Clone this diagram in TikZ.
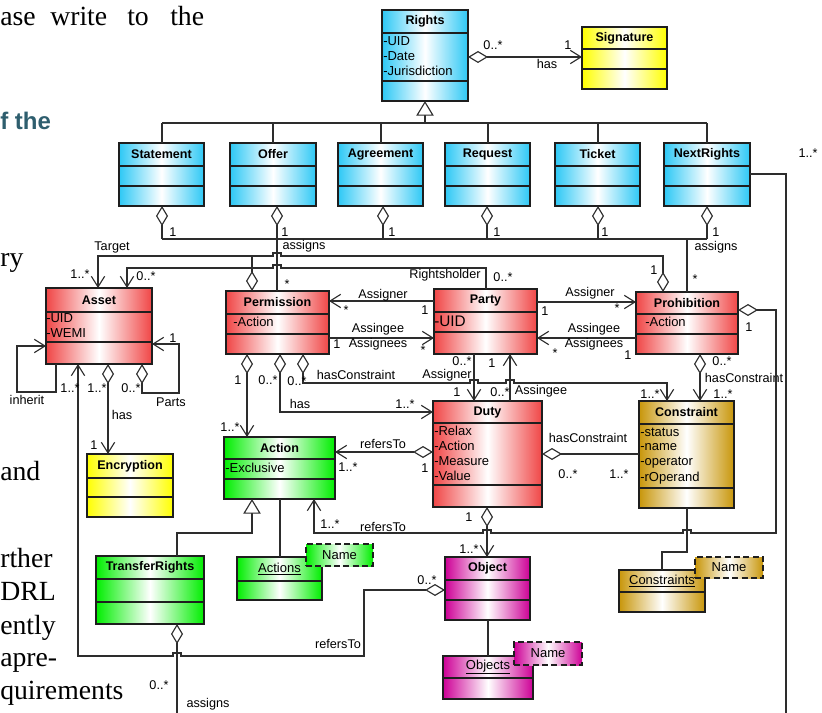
\documentclass[tikz,border=0pt]{standalone}
\usepackage{fontspec}
\setmainfont{Liberation Sans}
\newfontfamily\bodyserif{Liberation Serif}
\usetikzlibrary{arrows.meta,calc,fit}

\definecolor{cblue}{RGB}{45,200,245}
\definecolor{cyellow}{RGB}{255,255,0}
\definecolor{cred}{RGB}{240,70,70}
\definecolor{cgreen}{RGB}{0,238,0}
\definecolor{cgold}{RGB}{200,150,10}
\definecolor{cmag}{RGB}{205,0,150}
\definecolor{cborder}{RGB}{30,30,30}
\definecolor{cline}{RGB}{45,45,45}
\definecolor{cteal}{RGB}{46,94,110}

\tikzset{
  clsbox/.style={draw=cborder, line width=1pt, inner sep=0pt, outer sep=0pt},
  sepline/.style={draw=cborder, line width=1pt},
  ttl/.style={font=\fontsize{9.4}{11}\selectfont\bfseries, inner sep=0pt},
  att/.style={font=\fontsize{9.75}{11}\selectfont, inner sep=0pt, anchor=west},
  lbl/.style={font=\fontsize{9.5}{11}\selectfont, inner sep=0pt},
  body/.style={font=\bodyserif\fontsize{20.8}{25}\selectfont, inner sep=0pt, anchor=base west},
  conn/.style={draw=cline, line width=0.85pt},
  nav/.style={conn, -{Straight Barb[length=8pt,width=10pt]}},
  agg/.style={conn, {Diamond[fill=white,length=15pt,width=9pt]}-},
  aggnav/.style={conn, {Diamond[fill=white,length=15pt,width=9pt]}-{Straight Barb[length=8pt,width=10pt]}},
  gen/.style={conn, -{Triangle[fill=white,length=11pt,width=13pt]}},
  tagbox/.style={draw=cborder, line width=1pt, dash pattern=on 4.5pt off 2.5pt, inner sep=0pt, outer sep=0pt},
}

% class box: name, colour, x1, y1, x2, y2, first and second compartment line, title
\newcommand\umlcls[9]{%
  \node[clsbox, left color=#2, right color=#2, middle color=white, fit={(#3,#4) (#5,#6)}] (#1) {};
  \draw[sepline] (#1.west |- 0,#7) -- (#1.east |- 0,#7);
  \draw[sepline] (#1.west |- 0,#8) -- (#1.east |- 0,#8);
  \node[ttl] (#1-title) at ($(#1.north)!0.5!(#1.north |- 0,#7)$) {#9};
}
% instance box with underlined name
\newcommand\umlinst[8]{%
  \node[clsbox, left color=#2, right color=#2, middle color=white, fit={(#3,#4) (#5,#6)}] (#1) {};
  \draw[sepline] (#1.west |- 0,#7) -- (#1.east |- 0,#7);
  \node[lbl, font=\fontsize{9.75}{11}\selectfont] (#1-title) at ($(#1.north)!0.5!(#1.north |- 0,#7)$) {\underline{#8}};
}
% dashed template tag
\newcommand\umltag[6]{%
  \node[tagbox, left color=#2, right color=#2, middle color=white, fit={(#3,#4) (#5,#6)}] (#1) {};
  \node[lbl, font=\fontsize{9.75}{11}\selectfont] (#1-text) at (#1.center) {Name};
}
\newcounter{lblno}
\newcommand\lbl[2]{\stepcounter{lblno}\node[lbl] (lbl\arabic{lblno}) at (#1) {#2};}

\begin{document}
\begin{tikzpicture}[x=0.75pt,y=-0.75pt]
\useasboundingbox (0,0) rectangle (822,713);

% surrounding page text
\node[body] (bt1) at (0,26) {ase};
\node[body] (bt2) at (50,26) {write};
\node[body] (bt3) at (127,26) {to};
\node[body] (bt4) at (170,26) {the};
\node[inner sep=0pt, anchor=base west, font=\fontsize{18}{20}\selectfont\bfseries, text=cteal] (bt5) at (0,130) {f the};
\node[body] (bt6) at (0,267) {ry};
\node[body] (bt7) at (0,480) {and};
\node[body] (bt8) at (0,567) {rther};
\node[body] (bt9) at (0,600) {DRL};
\node[body] (bt10) at (0,634) {ently};
\node[body] (bt11) at (0,666) {apre-};
\node[body] (bt12) at (0,699) {quirements};

% classes
\umlcls{rights}{cblue}{382}{10}{468}{101}{33}{81}{Rights}
\node[att] (rights-a1) at (383,41) {-UID};
\node[att] (rights-a2) at (383,56) {-Date};
\node[att] (rights-a3) at (383,71) {-Jurisdiction};
\umlcls{signature}{cyellow}{582}{27}{667}{89}{49}{69}{Signature}
\umlcls{statement}{cblue}{119}{143}{204}{206}{166}{186}{Statement}
\umlcls{offer}{cblue}{230}{143}{316}{206}{166}{186}{Offer}
\umlcls{agreement}{cblue}{338}{143}{423}{206}{166}{186}{Agreement}
\umlcls{request}{cblue}{445}{143}{530}{206}{166}{186}{Request}
\umlcls{ticket}{cblue}{555}{143}{640}{206}{166}{186}{Ticket}
\umlcls{nextrights}{cblue}{664}{143}{750}{206}{166}{186}{NextRights}

\umlcls{asset}{cred}{46}{288}{152}{364}{312}{342}{Asset}
\node[att] (asset-a1) at (46,318) {-UID};
\node[att] (asset-a2) at (46,333) {-WEMI};
\umlcls{permission}{cred}{226}{291}{329}{354}{314}{334}{Permission}
\node[att] (permission-a1) at (233,322) {-Action};
\umlcls{party}{cred}{434}{289}{537}{354}{312}{332}{Party}
\node[att, font=\fontsize{11.5}{13}\selectfont] (party-a1) at (434,321) {-UID};
\umlcls{prohibition}{cred}{636}{292}{738}{354}{314}{334}{Prohibition}
\node[att] (prohibition-a1) at (645,322) {-Action};

\umlcls{encryption}{cyellow}{87}{454}{173}{517}{478}{497}{Encryption}
\umlcls{action}{cgreen}{224}{437}{335}{499}{459}{479}{Action}
\node[att] (action-a1) at (225,468) {-Exclusive};
\umlcls{duty}{cred}{433}{401}{542}{507}{423}{485}{Duty}
\node[att] (duty-a1) at (434,431) {-Relax};
\node[att] (duty-a2) at (434,446) {-Action};
\node[att] (duty-a3) at (434,461) {-Measure};
\node[att] (duty-a4) at (434,476) {-Value};
\umlcls{constraint}{cgold}{639}{401}{734}{508}{424}{488}{Constraint}
\node[att] (constraint-a1) at (640,432) {-status};
\node[att] (constraint-a2) at (640,447) {-name};
\node[att] (constraint-a3) at (640,463) {-operator};
\node[att] (constraint-a4) at (640,478) {-rOperand};

\umlcls{transferrights}{cgreen}{96}{556}{204}{624}{579}{602}{TransferRights}
\umlcls{object}{cmag}{445}{557}{530}{620}{580}{600}{Object}
\umlinst{actions}{cgreen}{237}{557}{322}{600}{581}{Actions}
\umltag{actions-tag}{cgreen}{306}{544}{373}{566}
\umlinst{objects}{cmag}{443}{656}{533}{699}{678}{Objects}
\umltag{objects-tag}{cmag}{514}{642}{582}{665}
\umlinst{constraints}{cgold}{619}{570}{705}{612}{592}{Constraints}
\umltag{constraints-tag}{cgold}{695}{557}{763}{578}

\coordinate (nr-end) at (786,713);
\coordinate (tr-end) at (177,713);

% Rights has Signature
\draw[aggnav] (rights.east |- 0,57) -- (signature.west |- 0,57);
\lbl{493,45}{0..*}\lbl{568,45}{1}\lbl{547,64}{has}

% specialisations of Rights
\draw[gen] (425,123) -- (rights.south);
\draw[conn] (162,123) -- (707,123);
\foreach \n/\x in {statement/162,offer/273,agreement/381,request/488,ticket/598,nextrights/707}
  \draw[conn] (\n.north -| \x,0) -- (\x,123);

% assigns
\foreach \n/\x in {statement/162,agreement/383,request/487,ticket/598,nextrights/707}
  \draw[agg] (\n.south -| \x,0) -- (\x,239);
\draw[agg] (offer.south -| 277,0) -- (permission.north -| 277,0);
\draw[conn] (162,239) -- (707,239);
\draw[conn, line width=1.7pt] (687,239) -- (prohibition.north);
\lbl{173,232}{1}\lbl{285,232}{1}\lbl{392,232}{1}\lbl{497,232}{1}\lbl{605,232}{1}\lbl{716,232}{1}
\lbl{304,246}{assigns}\lbl{716,247}{assigns}
\lbl{287,284}{*}\lbl{695,279}{*}

% Target
\draw[aggnav] (prohibition.north -| 663,0) -- (663,256) -- (281,256) -- (281,253) -- (273,253) -- (273,256) -- (98,256) -- (asset.north -| 98,0);
\draw[agg] (permission.north -| 252,0) -- (252,256);
\lbl{112,247}{Target}\lbl{80,274}{1..*}\lbl{654,270}{1}

% Rightsholder
\draw[nav] (party.north -| 486,0) -- (486,268) -- (281,268) -- (281,265) -- (273,265) -- (273,268) -- (127,268) -- (asset.north -| 127,0);
\lbl{146,276}{0..*}\lbl{445,275}{Rightsholder}\lbl{503,277}{0..*}

% Asset associations
\draw[nav] (asset.south -| 56,0) -- (56,392) -- (17,392) -- (17,346) -- (asset.west |- 0,346);
\lbl{27,400}{inherit}
\draw[aggnav] (asset.south -| 142,0) -- (142,393) -- (179,393) -- (179,344) -- (asset.east |- 0,344);
\lbl{131,388}{0..*}\lbl{171,402}{Parts}\lbl{173,338}{1}
\draw[aggnav] (asset.south -| 108,0) -- (encryption.north -| 108,0);
\lbl{97,388}{1..*}\lbl{122,415}{has}\lbl{94,445}{1}

% Party with Permission and Prohibition
\draw[nav] (party.west |- 0,301) -- (permission.east |- 0,301);
\lbl{383,295}{Assigner}\lbl{346,310}{*}\lbl{425,310}{1}
\draw[nav] (permission.east |- 0,338) -- (party.west |- 0,338);
\lbl{378,329}{Assingee}\lbl{378,344}{Assignees}\lbl{337,344}{1}\lbl{423,350}{*}
\draw[nav] (party.east |- 0,302) -- (prohibition.west |- 0,302);
\lbl{590,293}{Assigner}\lbl{617,308}{*}\lbl{545,311}{1}
\draw[nav] (prohibition.west |- 0,338) -- (party.east |- 0,338);
\lbl{594,329}{Assingee}\lbl{594,344}{Assignees}\lbl{555,353}{*}\lbl{628,355}{1}

% Party with Duty
\draw[nav] (party.south -| 474,0) -- (duty.north -| 474,0);
\lbl{462,361}{0..*}\lbl{447,375}{Assigner}\lbl{457,392}{1}
\draw[nav] (duty.north -| 510,0) -- (party.south -| 510,0);
\lbl{492,363}{1}\lbl{500,392}{0..*}\lbl{541,391}{Assingee}

% Permission associations
\draw[aggnav] (permission.south -| 303,0) -- (303,383) -- (470,383) -- (470,380) -- (478,380) -- (478,383) -- (506,383) -- (506,380) -- (514,380) -- (514,383) -- (667,383) -- (constraint.north -| 667,0);
\lbl{297,381}{0..*}\lbl{356,375}{hasConstraint}\lbl{650,394}{1..*}
\draw[aggnav] (permission.south -| 280,0) -- (280,412) -- (duty.west |- 0,412);
\lbl{268,380}{0..*}\lbl{300,404}{has}\lbl{405,404}{1..*}
\draw[aggnav] (permission.south -| 247,0) -- (action.north -| 247,0);
\lbl{238,380}{1}\lbl{230,427}{1..*}

% Duty associations
\draw[aggnav] (duty.west |- 0,452) -- (action.east |- 0,452);
\lbl{383,444}{refersTo}\lbl{348,467}{1..*}\lbl{425,468}{1}
\draw[agg] (duty.east |- 0,454) -- (constraint.west |- 0,454);
\lbl{588,438}{hasConstraint}\lbl{568,474}{0..*}\lbl{619,474}{1..*}
\draw[aggnav] (duty.south -| 487,0) -- (object.north -| 487,0);
\lbl{469,517}{1}\lbl{469,549}{1..*}

% Prohibition associations
\draw[aggnav] (prohibition.south -| 700,0) -- (constraint.north -| 700,0);
\lbl{722,361}{0..*}\lbl{744,378}{hasConstraint}\lbl{723,394}{1..*}
\draw[aggnav] (prohibition.east |- 0,310) -- (776,310) -- (776,533) -- (691,533) -- (691,530) -- (683,530) -- (683,533) -- (491,533) -- (491,530) -- (483,530) -- (483,533) -- (314,533) -- (action.south -| 314,0);
\lbl{749,327}{1}\lbl{330,524}{1..*}\lbl{383,527}{refersTo}

% Object refers to Asset
\draw[aggnav] (object.west |- 0,590) -- (364,590) -- (364,656) -- (181,656) -- (181,653) -- (173,653) -- (173,656) -- (78,656) -- (asset.south -| 78,0);
\lbl{427,580}{0..*}\lbl{338,644}{refersTo}\lbl{70,388}{1..*}

% Action hierarchy and instances
\draw[gen] (transferrights.north -| 177,0) -- (177,533) -- (252,533) -- (action.south -| 252,0);
\draw[conn] (action.south -| 280,0) -- (actions.north -| 280,0);
\draw[conn] (object.south -| 488,0) -- (objects.north -| 488,0);
\draw[conn] (constraint.south -| 687,0) -- (687,552) -- (662,552) -- (constraints.north -| 662,0);

% TransferRights assigns
\draw[agg] (transferrights.south -| 177,0) -- (tr-end);
\lbl{159,685}{0..*}\lbl{208,704}{assigns}

% NextRights
\draw[conn] (nextrights.east |- 0,174) -- (786,174) -- (nr-end);
\lbl{808,153}{1..*}
\end{tikzpicture}
\end{document}
